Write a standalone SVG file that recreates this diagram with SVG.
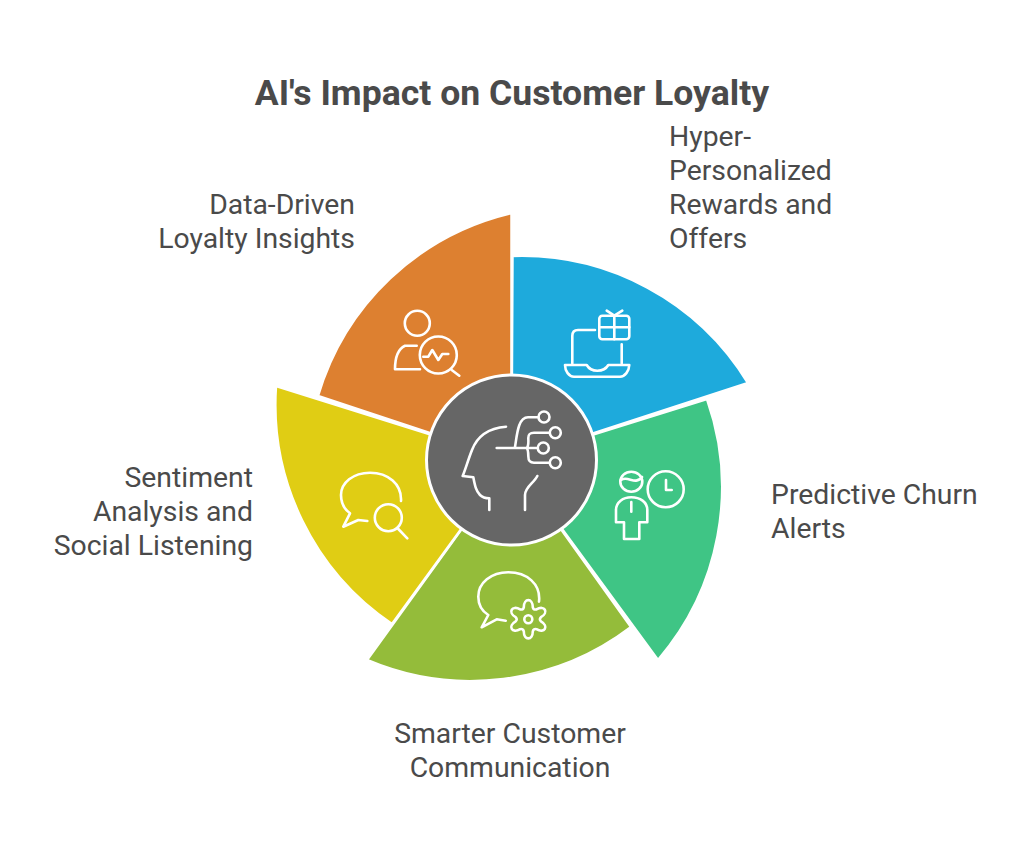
<svg xmlns="http://www.w3.org/2000/svg" width="1024" height="853" viewBox="0 0 1024 853">
<style>
text{font-family:Roboto,"Liberation Sans",sans-serif;font-size:28.35px;fill:#4a4a4a}
.title{font-size:35.6px;font-weight:700;text-anchor:middle}
.e{text-anchor:end}
.m{text-anchor:middle}
.seg{stroke:#fff;stroke-width:2.5;stroke-linejoin:miter}
.i{fill:none;stroke:#fff;stroke-width:2.6;stroke-linecap:round;stroke-linejoin:round}
</style>
<rect width="1024" height="853" fill="#fff"/>
<text class="title" x="512" y="105">AI's Impact on Customer Loyalty</text>
<g id="node-data-driven">
<path class="seg" fill="#DD8030" d="M511.5 460L511.5 213A265 265 0 0 0 318 396Z"/>
<path class="i" d="M416.7 345.7H405C398 349 395 359 395 369.3H420M451.7 370L459.3 375.7M423.3 356.7H428.3L432.3 350L438.3 360L442.3 354H448.3"/>
<circle class="i" cx="417.3" cy="323.3" r="12.5"/><circle class="i" cx="438.3" cy="355" r="18.5"/>
<text class="e" x="355" y="214">Data-Driven</text><text class="e" x="355" y="248">Loyalty Insights</text>
</g>
<g id="node-rewards">
<path class="seg" fill="#1EAADC" d="M511.5 460L512.5 256A265 265 0 0 1 748 383Z"/>
<path class="i" d="M595 330H578C574 330 572.3 332 572.3 336V363.3M621.7 344.3V363.3M565 365H586.7C589 369 593 370.7 597.3 370.7C602 370.7 606 369 608.3 365H629.3C629 371 625 376.7 620 376.7H574C569 376.7 565 371 565 365ZM606.7 310.7L614.3 315.7L622.3 310.7M614.3 315.7V339.3M599.3 327.3H629.3"/>
<rect class="i" x="599.3" y="315.7" width="30" height="23.6" rx="3"/>
<text x="669" y="146">Hyper-</text><text x="669" y="180">Personalized</text><text x="669" y="214">Rewards and</text><text x="669" y="248">Offers</text>
</g>
<g id="node-churn">
<path class="seg" fill="#3FC585" d="M511.5 460L707 399A265 265 0 0 1 658 660Z"/>
<ellipse class="i" cx="631.3" cy="481.7" rx="11" ry="10"/>
<circle class="i" cx="665.7" cy="489.3" r="18"/>
<path class="i" d="M621 480C628 475 635 486 642 477M666 480V490H671.7M616 522.3V510C616 502 623 497.3 631.3 497.3C640 497.3 647.3 502 647.3 510V522.3H639.3V539H624V522.3ZM631.3 502V511.7"/>
<text x="771" y="504">Predictive Churn</text><text x="771" y="538">Alerts</text>
</g>
<g id="node-communication">
<path class="seg" fill="#94BC3A" d="M511.5 460L631 627A265 265 0 0 1 367 660Z"/>
<path class="i" d="M539 601.7C541 584 527 572.3 508.3 572.3C491 572.3 478.3 583 478.3 596.7C478.3 605 482 611 488.3 615L481.7 627.3L496.7 619.3L505.7 620.7"/>
<path class="i" transform="translate(528.3 619.3)" d="M-4.5-12C-4.5-21.5 4.5-21.5 4.5-12Q5.25-9.1 8.14-9.9C16.37-14.65 20.87-6.85 12.64-2.1Q10.5 0 12.64 2.1C20.87 6.85 16.37 14.65 8.14 9.9Q5.25 9.1 4.5 12C4.5 21.5-4.5 21.5-4.5 12Q-5.25 9.1-8.14 9.9C-16.37 14.65-20.87 6.85-12.64 2.1Q-10.5 0-12.64-2.1C-20.87-6.85-16.37-14.65-8.14-9.9Q-5.25-9.1-4.5-12Z"/>
<circle class="i" cx="528.3" cy="619.3" r="4"/>
<text class="m" x="510" y="743">Smarter Customer</text><text class="m" x="510" y="777">Communication</text>
</g>
<g id="node-sentiment">
<path class="seg" fill="#E0CD14" d="M511.5 460L392 624A265 265 0 0 1 276 386Z"/>
<path class="i" d="M401 501C402 484 388 472.7 370 472.7C353 472.7 341 483 341 495C341 503 344 509 350 513.3L343.3 526.7L358.3 520L367.3 521M398.3 529L407.3 538.3"/>
<circle class="i" cx="388.3" cy="517.7" r="13.5"/>
<text class="e" x="253" y="487">Sentiment</text><text class="e" x="253" y="521">Analysis and</text><text class="e" x="253" y="555">Social Listening</text>
</g>
<g id="node-center">
<circle cx="511.5" cy="460" r="85" fill="#666" stroke="#fff" stroke-width="3"/>
<path class="i" d="M506 426.7C490 428 478 434 472 450C468 460 466 468 462.7 476L473.3 477.3C475 486 476 491 480 495C483 498 486 498.3 489.3 498.3V510M537.3 476C534 483 525 487 525 495V510M496.7 448H537.5M515 447C517 435 518 417.3 528 417.3H538.3M526.7 448C529 446 528.3 440 528.3 438C528.3 434 530 432.7 534 432.7H549.3M526.7 448C528.3 450 528.3 453 528.3 456C528.3 461 530 462.7 534 462.7H549.3"/>
<circle class="i" cx="544" cy="417" r="5.5"/><circle class="i" cx="555.3" cy="432.7" r="5.5"/><circle class="i" cx="543.3" cy="448" r="5.5"/><circle class="i" cx="555.3" cy="462.7" r="5.5"/>
</g>
<g id="connectors"/>
</svg>
